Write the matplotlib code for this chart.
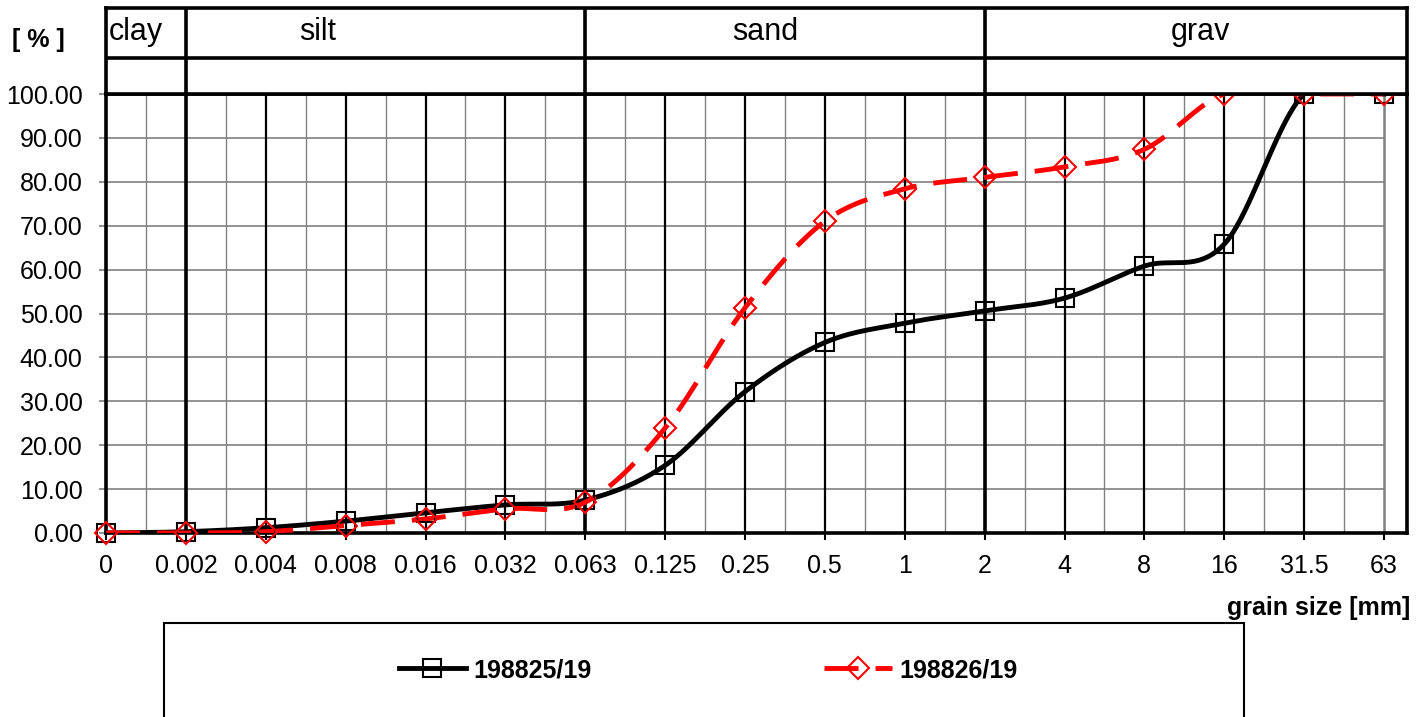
import numpy as np
import matplotlib.pyplot as plt
from matplotlib.lines import Line2D
from matplotlib.patches import Rectangle

plt.rcParams['font.family'] = ['Liberation Sans', 'DejaVu Sans']

# grain sizes (categorical axis) and cumulative passing [%]
sizes = ['0', '0.002', '0.004', '0.008', '0.016', '0.032', '0.063', '0.125',
         '0.25', '0.5', '1', '2', '4', '8', '16', '31.5', '63']
pass_198825 = [0.0, 0.3, 1.2, 2.7, 4.6, 6.4, 7.5, 15.4, 32.2, 43.4, 47.8, 50.6,
               53.5, 60.8, 65.8, 100.0, 100.0]
pass_198826 = [0.0, 0.0, 0.3, 1.7, 3.2, 5.5, 7.0, 23.9, 51.3, 71.0, 78.4, 81.0,
               83.4, 87.4, 100.0, 100.0, 100.0]
names = ['198825/19', '198826/19']

# fraction header: label, x position of label (category units)
fractions = ['clay', 'silt', 'sand', 'grav']
fraction_x = [0.04, 2.65, 8.25, 13.7]
fraction_bounds = [1, 6, 11]


def smooth(y, n=40):
    # excel-like smoothed line (bezier through points)
    y = np.asarray(y, float)
    x = np.arange(len(y), dtype=float)
    last = len(y) - 1
    xs, ys = [], []
    t = np.linspace(0, 1, n)
    for i in range(last):
        a, b = max(i - 1, 0), min(i + 2, last)
        c1x = x[i] + (x[i + 1] - x[a]) / 6
        c1y = y[i] + (y[i + 1] - y[a]) / 6
        c2x = x[i + 1] - (x[b] - x[i]) / 6
        c2y = y[i + 1] - (y[b] - y[i]) / 6
        w0, w1, w2, w3 = (1 - t) ** 3, 3 * (1 - t) ** 2 * t, 3 * (1 - t) * t ** 2, t ** 3
        xs.append(w0 * x[i] + w1 * c1x + w2 * c2x + w3 * x[i + 1])
        ys.append(w0 * y[i] + w1 * c1y + w2 * c2y + w3 * y[i + 1])
    return np.concatenate(xs), np.concatenate(ys)


W, H = 1424, 717
step = (1384 - 106) / 16
xmax = (1407 - 106) / step

fig = plt.figure(figsize=(W / 100, H / 100), dpi=100)
ax = fig.add_axes([106 / W, (H - 533) / H, (1407 - 106) / W, (533 - 94) / H])
ax.set_xlim(0, xmax)
ax.set_ylim(0, 100)

# grid
for k in range(1, 10):
    ax.plot([0, 16], [k * 10, k * 10], color='#808080', lw=1.2, zorder=1)
for k in range(16):
    ax.axvline(k + 0.5, color='#808080', lw=1.0, zorder=1)
for k in range(1, 17):
    if k == 16:
        ax.axvline(k, color='#808080', lw=1.8, zorder=1)
    elif k in fraction_bounds:
        ax.axvline(k, color='black', lw=2.6, zorder=1)
    else:
        ax.axvline(k, color='black', lw=1.6, zorder=1)

# curves
xa, ya = smooth(pass_198825)
xb, yb = smooth(pass_198826)
ax.plot(xa, ya, color='black', lw=3.5, zorder=3)
ax.plot(xb, yb, color='red', lw=3.5, dashes=(7, 3.5), zorder=4)
idx = np.arange(len(sizes))
ax.plot(idx, pass_198825, ls='none', marker='s', ms=13, mfc='none',
        mec='black', mew=1.5, zorder=5, clip_on=False)
ax.plot(idx, pass_198826, ls='none', marker='D', ms=11, mfc='none',
        mec='red', mew=1.5, zorder=6, clip_on=False)

for s in ax.spines.values():
    s.set_linewidth(2.6)
    s.set_color('black')

ax.set_xticks(idx)
ax.set_xticklabels(sizes)
ax.set_yticks(np.arange(0, 101, 10))
ax.set_yticklabels(['%.2f' % v for v in np.arange(0, 101, 10)])
ax.tick_params(axis='x', length=5, width=1.5, pad=10, labelsize=18)
ax.tick_params(axis='y', length=5, width=1.2, color='#808080', pad=12, labelsize=18)

# header with soil fractions
hax = fig.add_axes([106 / W, (H - 94) / H, (1407 - 106) / W, (94 - 8) / H])
hax.set_xlim(0, xmax)
hax.set_ylim(0, 86)
hax.set_xticks([])
hax.set_yticks([])
for s in hax.spines.values():
    s.set_linewidth(2.6)
hax.axhline(36, color='black', lw=2.6)
for b in fraction_bounds:
    hax.axvline(b, color='black', lw=2.6)
for lab, xp in zip(fractions, fraction_x):
    ha = 'left' if lab == 'clay' else 'center'
    hax.text(xp, 62, lab, ha=ha, va='center', fontsize=22)

fig.text(38 / W, 1 - 40 / H, '[ % ]', ha='center', va='center',
         fontsize=18, fontweight='bold')
fig.text(1410 / W, 1 - 608 / H, 'grain size [mm]', ha='right', va='center',
         fontsize=18, fontweight='bold')

# legend box
fig.add_artist(Rectangle((164 / W, -0.05), (1244 - 164) / W, (717 - 623) / H + 0.05,
                         transform=fig.transFigure, fill=False, lw=1.5,
                         edgecolor='black', clip_on=False))
handles = [
    Line2D([], [], color='black', lw=3.5, marker='s', ms=13, mfc='none',
           mec='black', mew=1.5),
    Line2D([], [], color='red', lw=3.5, dashes=(7, 3.5), marker='D', ms=11,
           mfc='none', mec='red', mew=1.5),
]
fig.legend(handles, names, loc='center', bbox_to_anchor=(708 / W, 1 - 670 / H),
           ncol=2, frameon=False, handlelength=2.7, handletextpad=0.3,
           columnspacing=9.3, prop={'weight': 'bold', 'size': 18})

fig.savefig('out.png', dpi=100)
